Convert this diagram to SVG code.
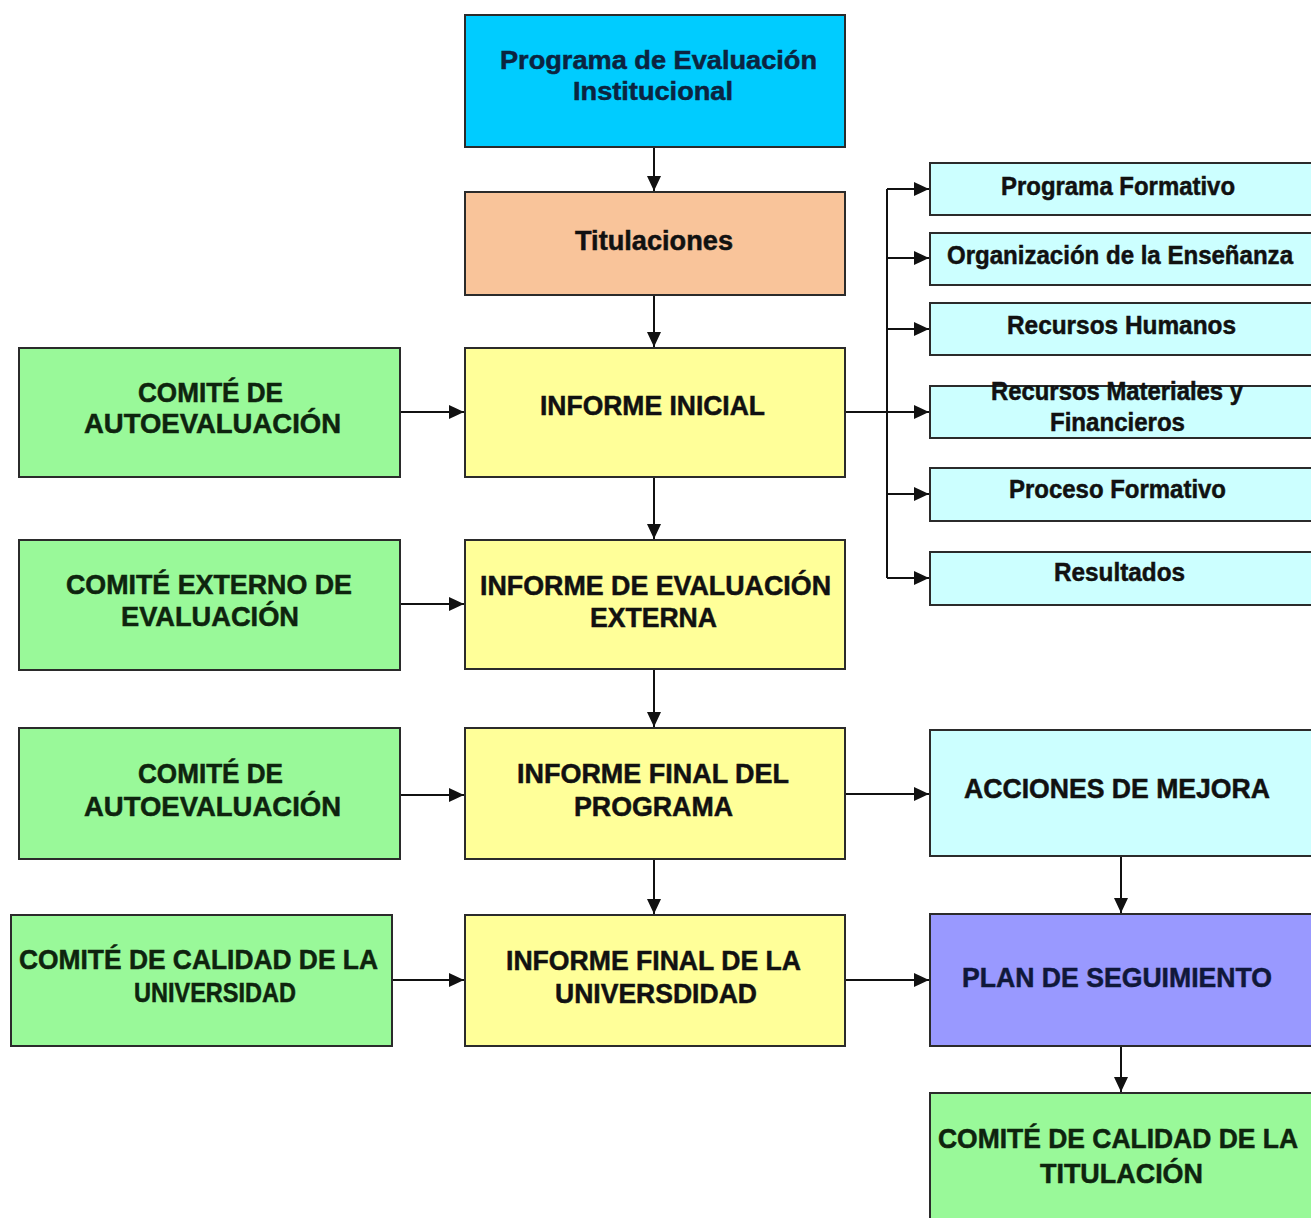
<svg xmlns="http://www.w3.org/2000/svg" width="1311" height="1218" viewBox="0 0 1311 1218">
<style>
.box{stroke:#2b2b2b;stroke-width:2}
.blue{fill:#00CCFF}
.peach{fill:#F9C49A}
.yellow{fill:#FFFF99}
.green{fill:#99F999}
.cyan{fill:#CCFFFF}
.violet{fill:#9999FF}
text{font-family:"Liberation Sans",Arial,sans-serif;font-weight:bold;fill:#111;stroke:#111;stroke-width:0.5}
.big{font-size:27px}
.top{font-size:26px}
.small{font-size:25px}
.navy{fill:#0B2440;stroke:#0B2440}
.dg{fill:#0E240E;stroke:#0E240E}
.pl{fill:#10183a;stroke:#10183a}
.conn{stroke:#111;stroke-width:2;fill:none}
</style>
<defs>
<marker id="arr" markerUnits="userSpaceOnUse" markerWidth="16" markerHeight="16" refX="15" refY="8" orient="auto">
<path d="M0,1 L15,8 L0,15 z" fill="#111"/>
</marker>
</defs>
<rect width="1311" height="1218" fill="#fff"/>

<g id="connectors">
<line class="conn" x1="654" y1="147" x2="654" y2="191" marker-end="url(#arr)"/>
<line class="conn" x1="654" y1="295" x2="654" y2="347" marker-end="url(#arr)"/>
<line class="conn" x1="654" y1="477" x2="654" y2="539" marker-end="url(#arr)"/>
<line class="conn" x1="654" y1="669" x2="654" y2="727" marker-end="url(#arr)"/>
<line class="conn" x1="654" y1="859" x2="654" y2="914" marker-end="url(#arr)"/>
<line class="conn" x1="1121" y1="856" x2="1121" y2="913" marker-end="url(#arr)"/>
<line class="conn" x1="1121" y1="1046" x2="1121" y2="1092" marker-end="url(#arr)"/>
<line class="conn" x1="400" y1="412" x2="464" y2="412" marker-end="url(#arr)"/>
<line class="conn" x1="400" y1="604" x2="464" y2="604" marker-end="url(#arr)"/>
<line class="conn" x1="400" y1="795" x2="464" y2="795" marker-end="url(#arr)"/>
<line class="conn" x1="392" y1="980" x2="464" y2="980" marker-end="url(#arr)"/>
<line class="conn" x1="845" y1="794" x2="929" y2="794" marker-end="url(#arr)"/>
<line class="conn" x1="845" y1="980" x2="929" y2="980" marker-end="url(#arr)"/>
<line class="conn" x1="845" y1="412" x2="887" y2="412"/>
<line class="conn" x1="887" y1="189" x2="887" y2="578"/>
<line class="conn" x1="887" y1="189" x2="929" y2="189" marker-end="url(#arr)"/>
<line class="conn" x1="887" y1="258" x2="929" y2="258" marker-end="url(#arr)"/>
<line class="conn" x1="887" y1="329" x2="929" y2="329" marker-end="url(#arr)"/>
<line class="conn" x1="887" y1="412" x2="929" y2="412" marker-end="url(#arr)"/>
<line class="conn" x1="887" y1="494" x2="929" y2="494" marker-end="url(#arr)"/>
<line class="conn" x1="887" y1="578" x2="929" y2="578" marker-end="url(#arr)"/>
</g>

<g id="programa-evaluacion">
<rect class="box blue" x="465" y="15" width="380" height="132"/>
<text class="top navy" x="500" y="69" textLength="317" lengthAdjust="spacingAndGlyphs">Programa de Evaluación</text>
<text class="top navy" x="573" y="100" textLength="160" lengthAdjust="spacingAndGlyphs">Institucional</text>
</g>
<g id="titulaciones">
<rect class="box peach" x="465" y="192" width="380" height="103"/>
<text class="big" x="575" y="250" textLength="158" lengthAdjust="spacingAndGlyphs">Titulaciones</text>
</g>
<g id="informe-inicial">
<rect class="box yellow" x="465" y="348" width="380" height="129"/>
<text class="big" x="540" y="415" textLength="225" lengthAdjust="spacingAndGlyphs">INFORME INICIAL</text>
</g>
<g id="informe-evaluacion-externa">
<rect class="box yellow" x="465" y="540" width="380" height="129"/>
<text class="big" x="480" y="595" textLength="351" lengthAdjust="spacingAndGlyphs">INFORME DE EVALUACIÓN</text>
<text class="big" x="590" y="627" textLength="127" lengthAdjust="spacingAndGlyphs">EXTERNA</text>
</g>
<g id="informe-final-programa">
<rect class="box yellow" x="465" y="728" width="380" height="131"/>
<text class="big" x="517" y="783" textLength="272" lengthAdjust="spacingAndGlyphs">INFORME FINAL DEL</text>
<text class="big" x="574" y="816" textLength="159" lengthAdjust="spacingAndGlyphs">PROGRAMA</text>
</g>
<g id="informe-final-universidad">
<rect class="box yellow" x="465" y="915" width="380" height="131"/>
<text class="big" x="506" y="970" textLength="295" lengthAdjust="spacingAndGlyphs">INFORME FINAL DE LA</text>
<text class="big" x="555" y="1003" textLength="202" lengthAdjust="spacingAndGlyphs">UNIVERSDIDAD</text>
</g>

<g id="comite-autoevaluacion-1">
<rect class="box green" x="19" y="348" width="381" height="129"/>
<text class="big dg" x="138" y="402" textLength="145" lengthAdjust="spacingAndGlyphs">COMITÉ DE</text>
<text class="big dg" x="84" y="433" textLength="257" lengthAdjust="spacingAndGlyphs">AUTOEVALUACIÓN</text>
</g>
<g id="comite-externo">
<rect class="box green" x="19" y="540" width="381" height="130"/>
<text class="big dg" x="66" y="594" textLength="286" lengthAdjust="spacingAndGlyphs">COMITÉ EXTERNO DE</text>
<text class="big dg" x="121" y="626" textLength="178" lengthAdjust="spacingAndGlyphs">EVALUACIÓN</text>
</g>
<g id="comite-autoevaluacion-2">
<rect class="box green" x="19" y="728" width="381" height="131"/>
<text class="big dg" x="138" y="783" textLength="145" lengthAdjust="spacingAndGlyphs">COMITÉ DE</text>
<text class="big dg" x="84" y="816" textLength="257" lengthAdjust="spacingAndGlyphs">AUTOEVALUACIÓN</text>
</g>
<g id="comite-calidad-universidad">
<rect class="box green" x="11" y="915" width="381" height="131"/>
<text class="big dg" x="19" y="969" textLength="359" lengthAdjust="spacingAndGlyphs">COMITÉ DE CALIDAD DE LA</text>
<text class="big dg" x="134" y="1002" textLength="162" lengthAdjust="spacingAndGlyphs">UNIVERSIDAD</text>
</g>

<g id="programa-formativo">
<rect class="box cyan" x="930" y="163" width="390" height="52"/>
<text class="small" x="1001" y="195" textLength="234" lengthAdjust="spacingAndGlyphs">Programa Formativo</text>
</g>
<g id="organizacion-ensenanza">
<rect class="box cyan" x="930" y="233" width="390" height="52"/>
<text class="small" x="947" y="264" textLength="346" lengthAdjust="spacingAndGlyphs">Organización de la Enseñanza</text>
</g>
<g id="recursos-humanos">
<rect class="box cyan" x="930" y="303" width="390" height="52"/>
<text class="small" x="1007" y="334" textLength="229" lengthAdjust="spacingAndGlyphs">Recursos Humanos</text>
</g>
<g id="recursos-materiales">
<rect class="box cyan" x="930" y="386" width="390" height="52"/>
<text class="small" x="991" y="400" textLength="252" lengthAdjust="spacingAndGlyphs">Recursos Materiales y</text>
<text class="small" x="1050" y="431" textLength="135" lengthAdjust="spacingAndGlyphs">Financieros</text>
</g>
<g id="proceso-formativo">
<rect class="box cyan" x="930" y="468" width="390" height="53"/>
<text class="small" x="1009" y="498" textLength="217" lengthAdjust="spacingAndGlyphs">Proceso Formativo</text>
</g>
<g id="resultados">
<rect class="box cyan" x="930" y="552" width="390" height="53"/>
<text class="small" x="1054" y="581" textLength="131" lengthAdjust="spacingAndGlyphs">Resultados</text>
</g>

<g id="acciones-mejora">
<rect class="box cyan" x="930" y="730" width="390" height="126"/>
<text class="big" x="964" y="798" textLength="306" lengthAdjust="spacingAndGlyphs">ACCIONES DE MEJORA</text>
</g>
<g id="plan-seguimiento">
<rect class="box violet" x="930" y="914" width="390" height="132"/>
<text class="big pl" x="962" y="987" textLength="310" lengthAdjust="spacingAndGlyphs">PLAN DE SEGUIMIENTO</text>
</g>
<g id="comite-calidad-titulacion">
<rect class="box green" x="930" y="1093" width="390" height="140"/>
<text class="big dg" x="938" y="1148" textLength="360" lengthAdjust="spacingAndGlyphs">COMITÉ DE CALIDAD DE LA</text>
<text class="big dg" x="1040" y="1183" textLength="163" lengthAdjust="spacingAndGlyphs">TITULACIÓN</text>
</g>
</svg>
